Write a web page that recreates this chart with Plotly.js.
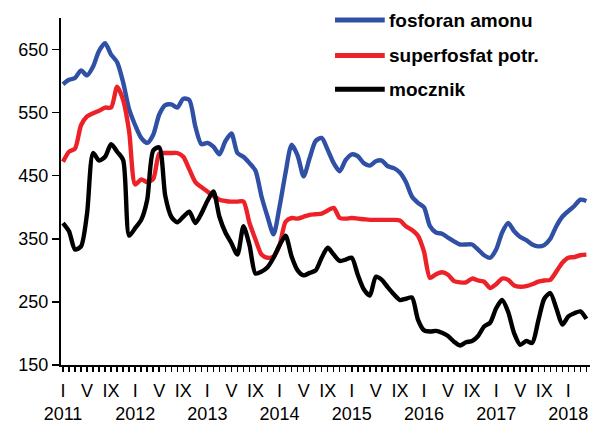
<!DOCTYPE html>
<html>
<head>
<meta charset="utf-8">
<script src="https://cdn.plot.ly/plotly-3.0.1.min.js"></script>
<style>
  html, body { margin: 0; padding: 0; background: #fff; }
  #chart { width: 599px; height: 425px; }
</style>
</head>
<body>
<div id="chart"></div>
<script>
// Monthly prices, January 2011 – April 2018 (index 0 = I 2011)
const seriesNames = ['fosforan amonu', 'superfosfat potr.', 'mocznik'];
const seriesColors = ['#2f50a4', '#ec2228', '#000000'];

const fosforanAmonu = [
  595, 602, 605, 617, 609, 623, 648, 660, 642, 630, 598, 555,
  530, 510, 502, 515, 547, 562, 563, 558, 572, 570, 528, 500,
  502, 496, 484, 505, 517, 486, 480, 470, 458, 417, 385, 357,
  401, 455, 499, 482, 449, 478, 505, 510, 491, 470, 457, 475,
  484, 481, 470, 466, 473, 474, 465, 462, 455, 440, 417, 407,
  400, 370, 360, 358, 352, 346, 341, 341, 341, 333, 324, 320,
  333, 360, 375, 362, 353, 348, 341, 338, 340, 350, 370, 385,
  394, 402, 412, 410
];

const superfosfatPotr = [
  472, 488, 493, 530, 544, 549, 553, 558, 558, 591, 570, 520,
  436, 444, 440, 445, 485, 486, 486, 486, 480, 460, 440, 432,
  425, 418, 412, 410, 409, 409, 409, 375, 349, 325, 320, 322,
  340, 377, 383, 382, 385, 388, 389, 390, 395, 399, 383, 382,
  383, 382, 381, 380, 380, 380, 380, 380, 379, 370, 364, 355,
  330, 288, 294, 297, 293, 283, 281, 281, 287, 284, 282, 272,
  278, 287, 285, 276, 274, 275, 278, 282, 284, 285, 298, 312,
  320, 321, 324, 325
];

const mocznik = [
  375, 362, 333, 338, 390, 486, 474, 480, 500, 488, 475, 355,
  367, 380, 412, 490, 495, 418, 385, 376, 385, 393, 375, 390,
  410, 425, 385, 360, 343, 325, 370, 340, 295, 298, 305, 320,
  340, 355, 322, 300, 292, 296, 300, 320, 336, 325, 315, 317,
  320, 293, 270, 260, 290, 285, 273, 262, 253, 255, 257, 222,
  205, 203, 204, 201, 196, 187, 181, 186, 188, 196, 211, 217,
  240, 253, 234, 200, 182, 188, 185, 220, 255, 264, 240, 214,
  227, 232, 235, 223
];

const years = [2011, 2012, 2013, 2014, 2015, 2016, 2017, 2018];
const monthOffsets = [0, 4, 8];
const monthLabels = ['I', 'V', 'IX'];
const yTicks = [150, 250, 350, 450, 550, 650];

const allSeries = [fosforanAmonu, superfosfatPotr, mocznik];
const nMonths = fosforanAmonu.length;
const monthIndex = Array.from({ length: nMonths }, (_, i) => i);

// Month tick labels (I, V, IX) with the year under each January
const tickVals = [];
const tickText = [];
years.forEach((yr, yi) => {
  monthOffsets.forEach((off, mi) => {
    const m = yi * 12 + off;
    if (m < nMonths) {
      tickVals.push(m);
      tickText.push(mi === 0 ? monthLabels[mi] + '<br>' + yr : monthLabels[mi]);
    }
  });
});

const font = 'Liberation Sans, Arial, sans-serif';

const traces = allSeries.map((vals, i) => ({
  x: monthIndex,
  y: vals,
  type: 'scatter',
  mode: 'lines',
  name: seriesNames[i],
  line: { color: seriesColors[i], width: 4.4, shape: 'spline', smoothing: 0.7 },
  showlegend: false,
  hoverinfo: 'x+y'
}));

// Hand-placed legend: a thick sample line followed by a bold label
const legendRowsY = [0.994, 0.892, 0.795];
const shapes = [];
const annotations = [];
seriesNames.forEach((name, i) => {
  shapes.push({
    type: 'line', xref: 'paper', yref: 'paper',
    x0: 0.518, x1: 0.612, y0: legendRowsY[i], y1: legendRowsY[i],
    line: { color: seriesColors[i], width: 5 }
  });
  annotations.push({
    xref: 'paper', yref: 'paper', x: 0.617, y: legendRowsY[i],
    xanchor: 'left', yanchor: 'middle', showarrow: false,
    text: '<b>' + name + '</b>',
    font: { family: font, size: 19, color: '#000' }
  });
});

const layout = {
  width: 599,
  height: 425,
  margin: { l: 61, r: 9, t: 18, b: 60 },
  paper_bgcolor: '#ffffff',
  plot_bgcolor: '#ffffff',
  font: { family: font, size: 18, color: '#000' },
  xaxis: {
    range: [-0.33, 87.6],
    tickmode: 'array',
    tickvals: tickVals,
    ticktext: tickText,
    tickangle: 0,
    ticks: 'outside',
    ticklen: 5,
    tickwidth: 1.5,
    tickcolor: '#000',
    ticklabelstandoff: 3,
    showline: true,
    linecolor: '#000',
    linewidth: 2,
    showgrid: false,
    zeroline: false,
    tickfont: { family: font, size: 18, color: '#000' },
    minor: { tickmode: 'linear', tick0: 0, dtick: 1, ticks: 'outside', ticklen: 5, tickwidth: 1.5, tickcolor: '#000', showgrid: false }
  },
  yaxis: {
    range: [150, 700],
    tickmode: 'array',
    tickvals: yTicks,
    ticks: 'outside',
    ticklen: 7,
    tickwidth: 1.5,
    tickcolor: '#000',
    showline: true,
    linecolor: '#000',
    linewidth: 2,
    showgrid: false,
    zeroline: false,
    tickfont: { family: font, size: 18, color: '#000' }
  },
  shapes: shapes,
  annotations: annotations,
  showlegend: false
};

Plotly.newPlot('chart', traces, layout, { staticPlot: true, displayModeBar: false });
</script>
</body>
</html>
